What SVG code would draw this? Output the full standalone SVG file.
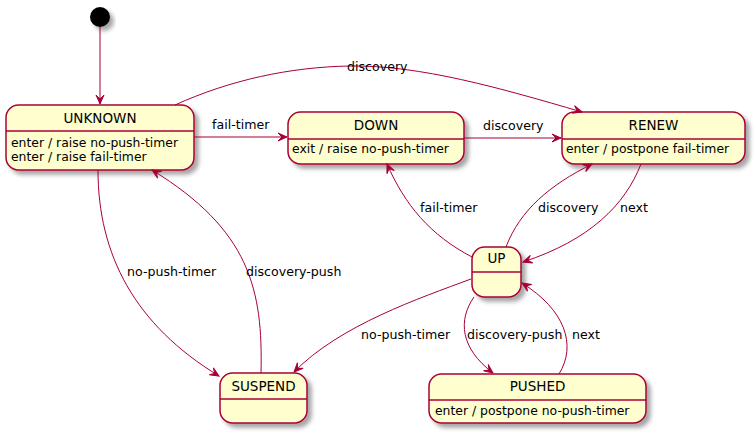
<svg xmlns="http://www.w3.org/2000/svg" width="756" height="434" viewBox="0 0 756 434">
<defs>
<filter id="sh" x="-20%" y="-20%" width="150%" height="160%">
<feGaussianBlur in="SourceAlpha" stdDeviation="2" result="b"/>
<feOffset in="b" dx="4" dy="4" result="o"/>
<feColorMatrix in="o" type="matrix" values="0 0 0 0 0  0 0 0 0 0  0 0 0 0 0  0 0 0 0.35 0" result="s"/>
<feMerge><feMergeNode in="s"/><feMergeNode in="SourceGraphic"/></feMerge>
</filter>
<marker id="ah" markerUnits="userSpaceOnUse" markerWidth="10" markerHeight="8" refX="9" refY="4" orient="auto" overflow="visible">
<path d="M0,0 L9,4 L0,8 L4,4 Z" fill="#A80036" stroke="#A80036" stroke-width="1"/>
</marker>
</defs>
<style>
.st{fill:#FEFECE;stroke:#A80036;stroke-width:1.5}
.sep{stroke:#A80036;stroke-width:1.5}
.t{font-family:"DejaVu Sans",sans-serif;font-size:13.5px;fill:#000;text-anchor:middle}
.a{font-family:"DejaVu Sans",sans-serif;font-size:12.4px;fill:#000}
.l{font-family:"DejaVu Sans",sans-serif;font-size:12.6px;fill:#000}
.e{fill:none;stroke:#A80036;stroke-width:1;marker-end:url(#ah)}
</style>
<rect width="756" height="434" fill="#FFFFFF"/>
<g id="start"><circle cx="100" cy="17" r="10" fill="#000" filter="url(#sh)"/></g>
<g id="UNKNOWN">
<rect class="st" x="6" y="105" width="188" height="65" rx="12.5" filter="url(#sh)"/>
<line class="sep" x1="6" y1="131" x2="194" y2="131"/>
<text class="t" x="100" y="123">UNKNOWN</text>
<text class="a" x="11" y="147">enter / raise no-push-timer</text>
<text class="a" x="11" y="161">enter / raise fail-timer</text>
</g>
<g id="DOWN">
<rect class="st" x="288" y="112" width="176" height="52" rx="12.5" filter="url(#sh)"/>
<line class="sep" x1="288" y1="139" x2="464" y2="139"/>
<text class="t" x="376" y="130">DOWN</text>
<text class="a" x="292" y="153">exit / raise no-push-timer</text>
</g>
<g id="RENEW">
<rect class="st" x="562" y="112" width="183" height="52" rx="12.5" filter="url(#sh)"/>
<line class="sep" x1="562" y1="139" x2="745" y2="139"/>
<text class="t" x="653.5" y="130">RENEW</text>
<text class="a" x="566" y="153">enter / postpone fail-timer</text>
</g>
<g id="UP">
<rect class="st" x="472" y="247" width="49" height="50" rx="12.5" filter="url(#sh)"/>
<line class="sep" x1="472" y1="272" x2="521" y2="272"/>
<text class="t" x="496.5" y="263">UP</text>
</g>
<g id="SUSPEND">
<rect class="st" x="220" y="373" width="87" height="50" rx="12.5" filter="url(#sh)"/>
<line class="sep" x1="220" y1="399" x2="307" y2="399"/>
<text class="t" x="263.5" y="391">SUSPEND</text>
</g>
<g id="PUSHED">
<rect class="st" x="429" y="374" width="217" height="49" rx="12.5" filter="url(#sh)"/>
<line class="sep" x1="429" y1="400" x2="646" y2="400"/>
<text class="t" x="537.5" y="391">PUSHED</text>
<text class="a" x="435" y="415">enter / postpone no-push-timer</text>
</g>
<g id="connectors">
<path class="e" d="M100,27 L100,104"/>
<path class="e" d="M194,137 L287,137"/>
<path class="e" d="M464,138 L561,138"/>
<path class="e" d="M175,105 C230,80 290,67 350,66 C420,65 500,88 582,112"/>
<path class="e" d="M98,170 C98,255 135,325 219,376"/>
<path class="e" d="M261,373 C263,290 250,230 152,170"/>
<path class="e" d="M471,279 C420,298 340,325 294,372"/>
<path class="e" d="M474,297 C458,320 460,348 493,373"/>
<path class="e" d="M559,374 C577,345 565,310 522,283"/>
<path class="e" d="M472,257 C430,235 405,205 387,164"/>
<path class="e" d="M506,247 C520,210 550,185 592,164"/>
<path class="e" d="M641,164 C625,205 590,240 523,262"/>
<text class="l" x="212" y="129">fail-timer</text>
<text class="l" x="483" y="130">discovery</text>
<text class="l" x="347" y="71">discovery</text>
<text class="l" x="420" y="212">fail-timer</text>
<text class="l" x="538" y="212">discovery</text>
<text class="l" x="620" y="212">next</text>
<text class="l" x="127" y="276">no-push-timer</text>
<text class="l" x="246" y="276">discovery-push</text>
<text class="l" x="361" y="339">no-push-timer</text>
<text class="l" x="467" y="339">discovery-push</text>
<text class="l" x="572" y="339">next</text>
</g>
</svg>
